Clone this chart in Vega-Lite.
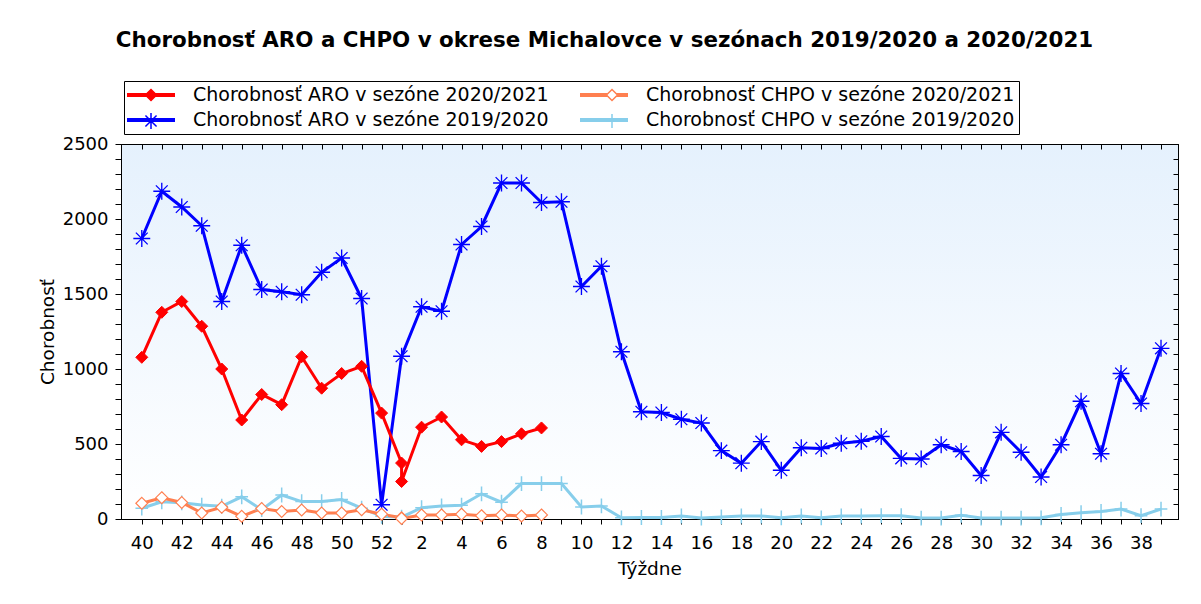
{
  "$schema": "https://vega.github.io/schema/vega-lite/v6.json",
  "width": 1057,
  "height": 375,
  "autosize": {"type": "none"},
  "padding": {"left": 121, "top": 144, "right": 23, "bottom": 85},
  "background": "white",
  "title": {
    "text": "Chorobnosť ARO a CHPO v okrese Michalovce v sezónach 2019/2020 a 2020/2021",
    "font": "DejaVu Sans",
    "fontSize": 21.4,
    "fontWeight": "bold",
    "color": "black",
    "anchor": "middle",
    "frame": "group",
    "dx": -45,
    "offset": 29
  },
  "datasets": {
    "chorobnost": [
      {"s":"ARO 2019/2020","i":0,"o":0,"v":1870},{"s":"ARO 2019/2020","i":1,"o":1,"v":2185},{"s":"ARO 2019/2020","i":2,"o":2,"v":2080},{"s":"ARO 2019/2020","i":3,"o":3,"v":1955},
      {"s":"ARO 2019/2020","i":4,"o":4,"v":1450},{"s":"ARO 2019/2020","i":5,"o":5,"v":1825},{"s":"ARO 2019/2020","i":6,"o":6,"v":1530},{"s":"ARO 2019/2020","i":7,"o":7,"v":1515},
      {"s":"ARO 2019/2020","i":8,"o":8,"v":1495},{"s":"ARO 2019/2020","i":9,"o":9,"v":1645},{"s":"ARO 2019/2020","i":10,"o":10,"v":1740},{"s":"ARO 2019/2020","i":11,"o":11,"v":1470},
      {"s":"ARO 2019/2020","i":12,"o":12,"v":95},{"s":"ARO 2019/2020","i":13,"o":13,"v":1085},{"s":"ARO 2019/2020","i":14,"o":14,"v":1415},{"s":"ARO 2019/2020","i":15,"o":15,"v":1385},
      {"s":"ARO 2019/2020","i":16,"o":16,"v":1830},{"s":"ARO 2019/2020","i":17,"o":17,"v":1950},{"s":"ARO 2019/2020","i":18,"o":18,"v":2240},{"s":"ARO 2019/2020","i":19,"o":19,"v":2240},
      {"s":"ARO 2019/2020","i":20,"o":20,"v":2110},{"s":"ARO 2019/2020","i":21,"o":21,"v":2115},{"s":"ARO 2019/2020","i":22,"o":22,"v":1550},{"s":"ARO 2019/2020","i":23,"o":23,"v":1685},
      {"s":"ARO 2019/2020","i":24,"o":24,"v":1115},{"s":"ARO 2019/2020","i":25,"o":25,"v":715},{"s":"ARO 2019/2020","i":26,"o":26,"v":710},{"s":"ARO 2019/2020","i":27,"o":27,"v":665},
      {"s":"ARO 2019/2020","i":28,"o":28,"v":640},{"s":"ARO 2019/2020","i":29,"o":29,"v":456},{"s":"ARO 2019/2020","i":30,"o":30,"v":372},{"s":"ARO 2019/2020","i":31,"o":31,"v":516},
      {"s":"ARO 2019/2020","i":32,"o":32,"v":325},{"s":"ARO 2019/2020","i":33,"o":33,"v":475},{"s":"ARO 2019/2020","i":34,"o":34,"v":470},{"s":"ARO 2019/2020","i":35,"o":35,"v":505},
      {"s":"ARO 2019/2020","i":36,"o":36,"v":518},{"s":"ARO 2019/2020","i":37,"o":37,"v":550},{"s":"ARO 2019/2020","i":38,"o":38,"v":404},{"s":"ARO 2019/2020","i":39,"o":39,"v":400},
      {"s":"ARO 2019/2020","i":40,"o":40,"v":495},{"s":"ARO 2019/2020","i":41,"o":41,"v":450},{"s":"ARO 2019/2020","i":42,"o":42,"v":290},{"s":"ARO 2019/2020","i":43,"o":43,"v":578},
      {"s":"ARO 2019/2020","i":44,"o":44,"v":445},{"s":"ARO 2019/2020","i":45,"o":45,"v":280},{"s":"ARO 2019/2020","i":46,"o":46,"v":495},{"s":"ARO 2019/2020","i":47,"o":47,"v":785},
      {"s":"ARO 2019/2020","i":48,"o":48,"v":435},{"s":"ARO 2019/2020","i":49,"o":49,"v":970},{"s":"ARO 2019/2020","i":50,"o":50,"v":770},{"s":"ARO 2019/2020","i":51,"o":51,"v":1138},

      {"s":"CHPO 2019/2020","i":0,"o":0,"v":72},{"s":"CHPO 2019/2020","i":1,"o":1,"v":115},{"s":"CHPO 2019/2020","i":2,"o":2,"v":108},{"s":"CHPO 2019/2020","i":3,"o":3,"v":93},
      {"s":"CHPO 2019/2020","i":4,"o":4,"v":85},{"s":"CHPO 2019/2020","i":5,"o":5,"v":148},{"s":"CHPO 2019/2020","i":6,"o":6,"v":62},{"s":"CHPO 2019/2020","i":7,"o":7,"v":160},
      {"s":"CHPO 2019/2020","i":8,"o":8,"v":116},{"s":"CHPO 2019/2020","i":9,"o":9,"v":116},{"s":"CHPO 2019/2020","i":10,"o":10,"v":130},{"s":"CHPO 2019/2020","i":11,"o":11,"v":72},
      {"s":"CHPO 2019/2020","i":12,"o":12,"v":18},{"s":"CHPO 2019/2020","i":13,"o":13,"v":12},{"s":"CHPO 2019/2020","i":14,"o":14,"v":75},{"s":"CHPO 2019/2020","i":15,"o":15,"v":87},
      {"s":"CHPO 2019/2020","i":16,"o":16,"v":92},{"s":"CHPO 2019/2020","i":17,"o":17,"v":168},{"s":"CHPO 2019/2020","i":18,"o":18,"v":112},{"s":"CHPO 2019/2020","i":19,"o":19,"v":236},
      {"s":"CHPO 2019/2020","i":20,"o":20,"v":236},{"s":"CHPO 2019/2020","i":21,"o":21,"v":236},{"s":"CHPO 2019/2020","i":22,"o":22,"v":80},{"s":"CHPO 2019/2020","i":23,"o":23,"v":87},
      {"s":"CHPO 2019/2020","i":24,"o":24,"v":8},{"s":"CHPO 2019/2020","i":25,"o":25,"v":10},{"s":"CHPO 2019/2020","i":26,"o":26,"v":10},{"s":"CHPO 2019/2020","i":27,"o":27,"v":20},
      {"s":"CHPO 2019/2020","i":28,"o":28,"v":6},{"s":"CHPO 2019/2020","i":29,"o":29,"v":14},{"s":"CHPO 2019/2020","i":30,"o":30,"v":20},{"s":"CHPO 2019/2020","i":31,"o":31,"v":20},
      {"s":"CHPO 2019/2020","i":32,"o":32,"v":8},{"s":"CHPO 2019/2020","i":33,"o":33,"v":20},{"s":"CHPO 2019/2020","i":34,"o":34,"v":8},{"s":"CHPO 2019/2020","i":35,"o":35,"v":20},
      {"s":"CHPO 2019/2020","i":36,"o":36,"v":20},{"s":"CHPO 2019/2020","i":37,"o":37,"v":22},{"s":"CHPO 2019/2020","i":38,"o":38,"v":22},{"s":"CHPO 2019/2020","i":39,"o":39,"v":6},
      {"s":"CHPO 2019/2020","i":40,"o":40,"v":6},{"s":"CHPO 2019/2020","i":41,"o":41,"v":25},{"s":"CHPO 2019/2020","i":42,"o":42,"v":6},{"s":"CHPO 2019/2020","i":43,"o":43,"v":6},
      {"s":"CHPO 2019/2020","i":44,"o":44,"v":6},{"s":"CHPO 2019/2020","i":45,"o":45,"v":8},{"s":"CHPO 2019/2020","i":46,"o":46,"v":30},{"s":"CHPO 2019/2020","i":47,"o":47,"v":42},
      {"s":"CHPO 2019/2020","i":48,"o":48,"v":50},{"s":"CHPO 2019/2020","i":49,"o":49,"v":66},{"s":"CHPO 2019/2020","i":50,"o":50,"v":22},{"s":"CHPO 2019/2020","i":51,"o":51,"v":66},

      {"s":"ARO 2020/2021","i":0,"o":0,"v":1078},{"s":"ARO 2020/2021","i":1,"o":1,"v":1378},{"s":"ARO 2020/2021","i":2,"o":2,"v":1450},{"s":"ARO 2020/2021","i":3,"o":3,"v":1285},
      {"s":"ARO 2020/2021","i":4,"o":4,"v":1000},{"s":"ARO 2020/2021","i":5,"o":5,"v":660},{"s":"ARO 2020/2021","i":6,"o":6,"v":830},{"s":"ARO 2020/2021","i":7,"o":7,"v":762},
      {"s":"ARO 2020/2021","i":8,"o":8,"v":1082},{"s":"ARO 2020/2021","i":9,"o":9,"v":872},{"s":"ARO 2020/2021","i":10,"o":10,"v":970},{"s":"ARO 2020/2021","i":11,"o":11,"v":1018},
      {"s":"ARO 2020/2021","i":12,"o":12,"v":706},{"s":"ARO 2020/2021","i":13,"o":13,"v":373},{"s":"ARO 2020/2021","i":13,"o":14,"v":250},{"s":"ARO 2020/2021","i":14,"o":15,"v":612},
      {"s":"ARO 2020/2021","i":15,"o":16,"v":680},{"s":"ARO 2020/2021","i":16,"o":17,"v":528},{"s":"ARO 2020/2021","i":17,"o":18,"v":484},{"s":"ARO 2020/2021","i":18,"o":19,"v":516},
      {"s":"ARO 2020/2021","i":19,"o":20,"v":568},{"s":"ARO 2020/2021","i":20,"o":21,"v":607},

      {"s":"CHPO 2020/2021","i":0,"o":0,"v":105},{"s":"CHPO 2020/2021","i":1,"o":1,"v":142},{"s":"CHPO 2020/2021","i":2,"o":2,"v":110},{"s":"CHPO 2020/2021","i":3,"o":3,"v":40},
      {"s":"CHPO 2020/2021","i":4,"o":4,"v":78},{"s":"CHPO 2020/2021","i":5,"o":5,"v":18},{"s":"CHPO 2020/2021","i":6,"o":6,"v":70},{"s":"CHPO 2020/2021","i":7,"o":7,"v":50},
      {"s":"CHPO 2020/2021","i":8,"o":8,"v":60},{"s":"CHPO 2020/2021","i":9,"o":9,"v":40},{"s":"CHPO 2020/2021","i":10,"o":10,"v":40},{"s":"CHPO 2020/2021","i":11,"o":11,"v":62},
      {"s":"CHPO 2020/2021","i":12,"o":12,"v":32},{"s":"CHPO 2020/2021","i":13,"o":13,"v":8},{"s":"CHPO 2020/2021","i":13,"o":14,"v":4},{"s":"CHPO 2020/2021","i":14,"o":15,"v":27},
      {"s":"CHPO 2020/2021","i":15,"o":16,"v":27},{"s":"CHPO 2020/2021","i":16,"o":17,"v":32},{"s":"CHPO 2020/2021","i":17,"o":18,"v":22},{"s":"CHPO 2020/2021","i":18,"o":19,"v":27},
      {"s":"CHPO 2020/2021","i":19,"o":20,"v":20},{"s":"CHPO 2020/2021","i":20,"o":21,"v":27}
    ]
  },
  "data": {"name": "chorobnost"},
  "view": {
    "stroke": "black",
    "strokeWidth": 1,
    "fill": {
      "gradient": "linear", "x1": 0, "y1": 0, "x2": 0, "y2": 1,
      "stops": [{"offset": 0, "color": "#e5f1fd"}, {"offset": 1, "color": "#ffffff"}]
    }
  },
  "resolve": {"axis": {"x": "independent", "y": "independent"}},
  "layer": [
    {
      "mark": {"type": "line", "strokeWidth": 3, "interpolate": "linear"},
      "encoding": {
        "x": {
          "field": "i", "type": "quantitative",
          "scale": {"domain": [-1.04, 51.85], "nice": false, "zero": false},
          "axis": {
            "orient": "bottom",
            "values": [0,1,2,3,4,5,6,7,8,9,10,11,12,13,14,15,16,17,18,19,20,21,22,23,24,25,26,27,28,29,30,31,32,33,34,35,36,37,38,39,40,41,42,43,44,45,46,47,48,49,50,51],
            "labelExpr": "datum.value % 2 == 0 ? '' + ((datum.value + 39) % 52 + 1) : ''",
            "labelOverlap": false,
            "labelFlush": false,
            "tickSize": 5,
            "labelPadding": 10,
            "title": "Týždne",
            "titlePadding": 7
          }
        },
        "y": {
          "field": "v", "type": "quantitative",
          "scale": {"domain": [0, 2500], "nice": false},
          "axis": {
            "orient": "left",
            "values": [0,100,200,300,400,500,600,700,800,900,1000,1100,1200,1300,1400,1500,1600,1700,1800,1900,2000,2100,2200,2300,2400,2500],
            "labelExpr": "datum.value % 500 == 0 ? '' + datum.value : ''",
            "labelOverlap": false,
            "labelFlush": false,
            "tickSize": 6,
            "labelPadding": 7,
            "title": "Chorobnosť",
            "titlePadding": 5
          }
        },
        "order": {"field": "o", "type": "quantitative"},
        "color": {
          "field": "s", "type": "nominal",
          "sort": ["ARO 2020/2021", "CHPO 2020/2021", "ARO 2019/2020", "CHPO 2019/2020"],
          "scale": {"range": ["#ff0000", "#ff7f50", "#0000ff", "#87ceeb"]},
          "legend": {
            "orient": "none",
            "legendX": 3,
            "legendY": -63,
            "zindex": 0,
            "direction": "horizontal",
            "columns": 2,
            "title": null,
            "strokeColor": "black",
            "fillColor": "white",
            "padding": 4,
            "labelFont": "DejaVu Sans",
            "labelFontSize": 19,
            "labelColor": "black",
            "labelLimit": 600,
            "labelOffset": 32,
            "labelExpr": "'Chorobnosť ' + split(datum.label, ' ')[0] + ' v sezóne ' + split(datum.label, ' ')[1]",
            "symbolType": "M-3,0H3",
            "symbolSize": 256,
            "symbolStrokeWidth": 4,
            "symbolOffset": 13,
            "columnPadding": 23,
            "rowPadding": 5
          }
        }
      }
    },
    {
      "mark": {"type": "point", "opacity": 1, "fillOpacity": 1, "strokeOpacity": 1},
      "encoding": {
        "x": {
          "field": "i", "type": "quantitative",
          "scale": {"domain": [-1.04, 51.85], "nice": false, "zero": false},
          "axis": {
            "orient": "top",
            "values": [0,1,2,3,4,5,6,7,8,9,10,11,12,13,14,15,16,17,18,19,20,21,22,23,24,25,26,27,28,29,30,31,32,33,34,35,36,37,38,39,40,41,42,43,44,45,46,47,48,49,50,51],
            "labels": false,
            "title": null,
            "tickSize": -5
          }
        },
        "y": {
          "field": "v", "type": "quantitative",
          "scale": {"domain": [0, 2500], "nice": false},
          "axis": {
            "orient": "right",
            "values": [0,100,200,300,400,500,600,700,800,900,1000,1100,1200,1300,1400,1500,1600,1700,1800,1900,2000,2100,2200,2300,2400,2500],
            "labels": false,
            "title": null,
            "tickSize": -5
          }
        },
        "shape": {
          "field": "s", "type": "nominal",
          "scale": {
            "domain": ["ARO 2020/2021", "CHPO 2020/2021", "ARO 2019/2020", "CHPO 2019/2020"],
            "range": [
              "M0,-0.6L0.6,0L0,0.6L-0.6,0Z",
              "M0,-0.6L0.6,0L0,0.6L-0.6,0Z",
              "M-0.86,0H0.86M0,-0.86V0.86M-0.6,-0.6L0.6,0.6M-0.6,0.6L0.6,-0.6",
              "M-0.65,0H0.65M0,-0.76V0.76"
            ]
          },
          "legend": {
            "orient": "none", "legendX": 3, "legendY": -63, "zindex": 1,
            "direction": "horizontal", "columns": 2, "title": null, "padding": 4,
            "labelFont": "DejaVu Sans", "labelFontSize": 19, "labelColor": "transparent",
            "labelLimit": 600, "labelOffset": 32, "labelExpr": "''",
            "symbolSize": 342.25, "symbolStrokeWidth": 1.5, "symbolOffset": 13, "columnPadding": 396, "rowPadding": 5
          }
        },
        "fill": {
          "field": "s", "type": "nominal",
          "scale": {
            "domain": ["ARO 2020/2021", "CHPO 2020/2021", "ARO 2019/2020", "CHPO 2019/2020"],
            "range": ["#ff0000", "#ffffff", "transparent", "transparent"]
          },
          "legend": {
            "orient": "none", "legendX": 3, "legendY": -63, "zindex": 1,
            "direction": "horizontal", "columns": 2, "title": null, "padding": 4,
            "labelFont": "DejaVu Sans", "labelFontSize": 19, "labelColor": "transparent",
            "labelLimit": 600, "labelOffset": 32, "labelExpr": "''",
            "symbolSize": 342.25, "symbolStrokeWidth": 1.5, "symbolOffset": 13, "columnPadding": 396, "rowPadding": 5
          }
        },
        "stroke": {
          "field": "s", "type": "nominal",
          "scale": {
            "domain": ["ARO 2020/2021", "CHPO 2020/2021", "ARO 2019/2020", "CHPO 2019/2020"],
            "range": ["#ff0000", "#ff7f50", "#0000ff", "#87ceeb"]
          },
          "legend": {
            "orient": "none", "legendX": 3, "legendY": -63, "zindex": 1,
            "direction": "horizontal", "columns": 2, "title": null, "padding": 4,
            "labelFont": "DejaVu Sans", "labelFontSize": 19, "labelColor": "transparent",
            "labelLimit": 600, "labelOffset": 32, "labelExpr": "''",
            "symbolSize": 342.25, "symbolStrokeWidth": 1.5, "symbolOffset": 13, "columnPadding": 396, "rowPadding": 5
          }
        },
        "size": {
          "field": "s", "type": "nominal", "legend": null,
          "sort": ["ARO 2020/2021", "CHPO 2020/2021", "ARO 2019/2020", "CHPO 2019/2020"],
          "scale": {"range": [400, 380, 346, 292]}
        },
        "strokeWidth": {
          "field": "s", "type": "nominal", "legend": null,
          "sort": ["ARO 2020/2021", "CHPO 2020/2021", "ARO 2019/2020", "CHPO 2019/2020"],
          "scale": {"range": [1, 1.5, 1.5, 2]}
        }
      }
    }
  ],
  "config": {
    "axis": {
      "grid": false,
      "domainColor": "black",
      "tickColor": "black",
      "labelColor": "black",
      "titleColor": "black",
      "labelFont": "DejaVu Sans",
      "titleFont": "DejaVu Sans",
      "labelFontSize": 18,
      "titleFontSize": 18.5,
      "titleFontWeight": "normal"
    }
  }
}
